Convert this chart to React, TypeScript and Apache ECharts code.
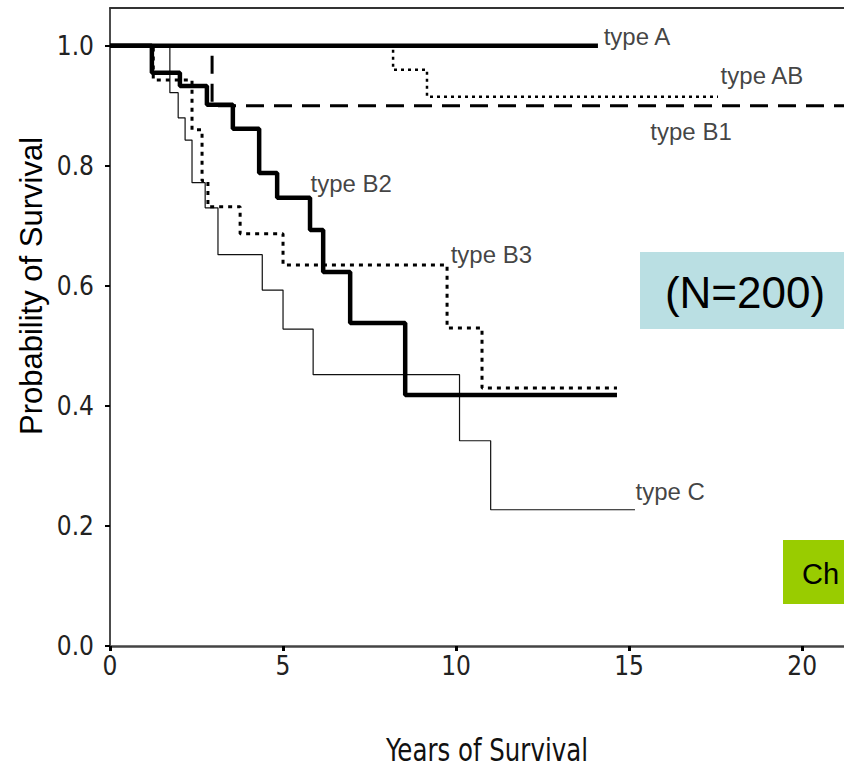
import React, { useEffect, useRef } from 'react';
import * as echarts from 'echarts';

// Axis ticks
const xTickValues = [0, 5, 10, 15, 20];
const yTickValues = [0, 0.2, 0.4, 0.6, 0.8, 1.0];

// Kaplan-Meier curves: event times (years) and survival after each event
const typeATimes = [0, 14.1];
const typeASurv = [1.0, 1.0];

const typeABTimes = [0, 8.18, 9.16, 17.57];
const typeABSurv = [1.0, 0.96, 0.915, 0.915];

const typeB1Times = [0, 2.95, 22];
const typeB1Surv = [1.0, 0.9, 0.9];

const typeB2Times = [0, 1.21, 2.02, 2.8, 3.55, 4.31, 4.83, 5.78, 6.16, 6.94, 8.53, 14.65];
const typeB2Surv = [1.0, 0.955, 0.933, 0.902, 0.862, 0.788, 0.747, 0.693, 0.623, 0.538, 0.418, 0.418];

const typeB3Times = [0, 1.25, 2.37, 2.66, 2.83, 3.76, 5.0, 9.74, 10.75, 14.65];
const typeB3Surv = [1.0, 0.943, 0.86, 0.775, 0.732, 0.687, 0.635, 0.53, 0.43, 0.43];

const typeCTimes = [0, 1.73, 1.97, 2.17, 2.37, 2.75, 3.12, 4.4, 5.0, 5.87, 10.1, 11.0, 15.17];
const typeCSurv = [1.0, 0.922, 0.88, 0.843, 0.772, 0.73, 0.652, 0.593, 0.528, 0.452, 0.342, 0.227, 0.227];

// Curve labels, anchored in data units
const labelTexts = ['type A', 'type AB', 'type B1', 'type B2', 'type B3', 'type C'];
const labelTimes = [14.25, 17.63, 15.6, 5.78, 9.83, 15.17];
const labelSurv = [1.015, 0.95, 0.857, 0.77, 0.652, 0.257];

const pair = (t: number[], s: number[]) => t.map((v, i) => [v, s[i]]);

export default function App() {
  const ref = useRef<HTMLDivElement>(null);
  useEffect(() => {
    if (!ref.current) return;
    const chart = echarts.init(ref.current, null, { renderer: 'svg' });
    const narrow = "'Liberation Sans Narrow', 'Arial Narrow', 'DejaVu Sans Condensed', sans-serif";
    const sans = "'Liberation Sans', Arial, Helvetica, sans-serif";

    const curve = (name: string, t: number[], s: number[], lineStyle: any, z: number) => ({
      name,
      type: 'line',
      step: 'end',
      symbol: 'none',
      data: pair(t, s),
      lineStyle: { color: '#000', ...lineStyle },
      z,
      silent: true,
    });

    chart.setOption({
      animation: false,
      backgroundColor: '#ffffff',
      grid: { left: 110, right: 0, top: 8, bottom: 124 },
      xAxis: [
        {
          type: 'value',
          min: 0,
          max: 21.21,
          position: 'bottom',
          axisLine: { show: true, onZero: false, lineStyle: { color: '#444', width: 2.5 } },
          axisTick: { show: true, length: 5, customValues: xTickValues, lineStyle: { color: '#000', width: 3 } },
          axisLabel: { customValues: xTickValues, margin: 7, fontFamily: narrow, fontSize: 26, color: '#222' },
          splitLine: { show: false },
        },
        {
          type: 'value',
          min: 0,
          max: 21.21,
          position: 'top',
          axisLine: { show: true, onZero: false, lineStyle: { color: '#333', width: 2 } },
          axisTick: { show: false },
          axisLabel: { show: false },
          splitLine: { show: false },
        },
      ],
      yAxis: {
        type: 'value',
        min: 0,
        max: 1.063,
        axisLine: { show: true, onZero: false, lineStyle: { color: '#111', width: 1.5 } },
        axisTick: { show: true, length: 5, customValues: yTickValues, lineStyle: { color: '#000', width: 2 } },
        axisLabel: {
          customValues: yTickValues,
          margin: 16,
          fontFamily: narrow,
          fontSize: 26,
          color: '#222',
          formatter: (v: number) => v.toFixed(1),
        },
        splitLine: { show: false },
      },
      series: [
        curve('type C', typeCTimes, typeCSurv, { width: 1.2, color: '#111' }, 2),
        curve('type AB', typeABTimes, typeABSurv, { width: 2.5, type: [3, 4] }, 3),
        curve('type B3', typeB3Times, typeB3Surv, { width: 3, type: [4, 5] }, 3),
        curve('type B1', typeB1Times, typeB1Surv, { width: 3, type: [18, 10] }, 4),
        curve('type B2', typeB2Times, typeB2Surv, { width: 4.5 }, 5),
        curve('type A', typeATimes, typeASurv, { width: 4.5 }, 6),
        {
          name: 'labels',
          type: 'scatter',
          symbolSize: 1,
          itemStyle: { color: 'rgba(0,0,0,0)' },
          silent: true,
          z: 7,
          data: labelTexts.map((txt, i) => ({ name: txt, value: [labelTimes[i], labelSurv[i]] })),
          label: {
            show: true,
            position: 'right',
            distance: 0,
            formatter: '{b}',
            fontFamily: sans,
            fontSize: 24,
            color: '#111',
          },
        },
      ],
      graphic: [
        {
          type: 'text',
          x: 31,
          y: 286,
          rotation: Math.PI / 2,
          z: 100,
          style: {
            text: 'Probability of Survival',
            fontFamily: sans,
            fontSize: 31,
            fill: '#000',
            align: 'center',
            verticalAlign: 'middle',
          },
        },
        {
          type: 'text',
          x: 487,
          y: 750,
          scaleX: 0.85,
          z: 100,
          style: {
            text: 'Years of Survival',
            fontFamily: narrow,
            fontSize: 32,
            fill: '#111',
            align: 'center',
            verticalAlign: 'middle',
          },
        },
        {
          type: 'rect',
          z: 100,
          shape: { x: 640, y: 252, width: 204, height: 77 },
          style: { fill: '#BADFE3' },
        },
        {
          type: 'text',
          x: 745,
          y: 292,
          z: 101,
          style: {
            text: '(N=200)',
            fontFamily: sans,
            fontSize: 44,
            fill: '#000',
            align: 'center',
            verticalAlign: 'middle',
          },
        },
        {
          type: 'rect',
          z: 100,
          shape: { x: 783, y: 540, width: 61, height: 64 },
          style: { fill: '#99CC00' },
        },
        {
          type: 'text',
          x: 802,
          y: 574,
          z: 101,
          style: {
            text: 'Ch',
            fontFamily: sans,
            fontSize: 29,
            fill: '#000',
            align: 'left',
            verticalAlign: 'middle',
          },
        },
      ],
    });
    return () => chart.dispose();
  }, []);
  return (
    <div
      ref={ref}
      style={{ position: 'fixed', left: 0, top: 0, width: 844, height: 770, background: '#fff' }}
    />
  );
}
